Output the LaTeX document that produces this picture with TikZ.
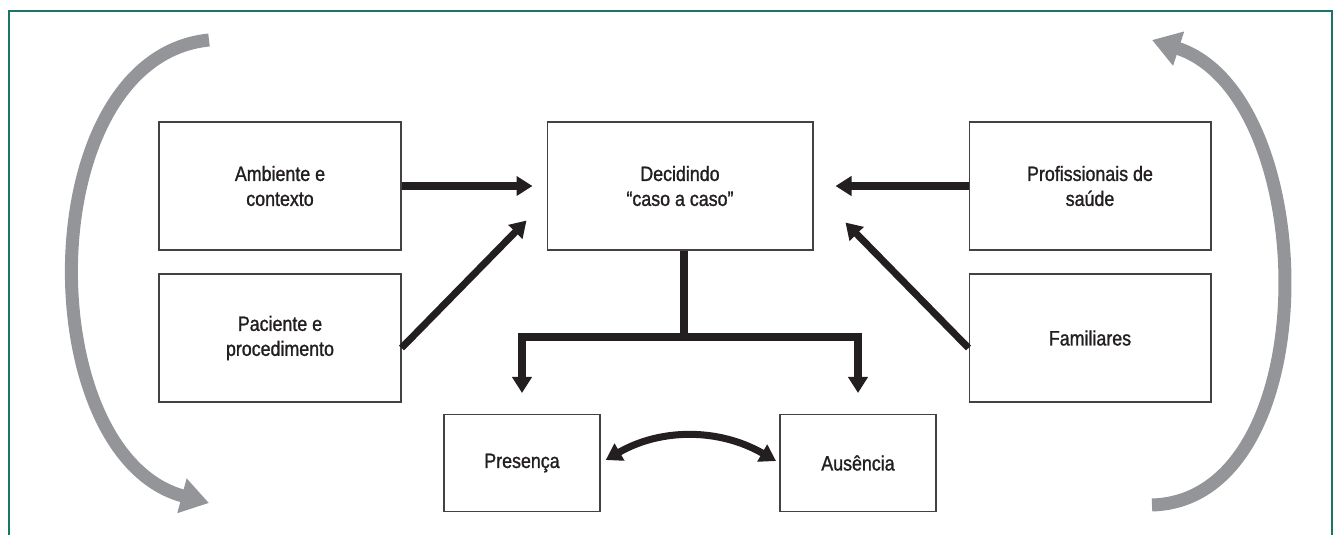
\documentclass[tikz,border=0pt]{standalone}
\usepackage{fontspec}
\setmainfont{Liberation Sans}[FakeStretch=0.86, FakeBold=1.2]
\usepackage{tikz}
\usetikzlibrary{arrows.meta}
\definecolor{frame}{RGB}{27,117,101}
\definecolor{arcgray}{RGB}{147,149,152}
\definecolor{ink}{RGB}{35,31,32}

\begin{document}
\begin{tikzpicture}
		[x=0.02cm, y=-0.02cm, thick,
		main/.style = {draw=ink!85, line width=0.6pt, minimum width=4.84cm, minimum height=2.56cm, align=center, text=ink, font=\fontsize{11.8}{14.2}\selectfont},
		wide/.style = {main, minimum width=5.32cm},
		small/.style = {main, minimum width=3.12cm, minimum height=1.94cm},
		link/.style = {draw=ink, line width=4pt},
		arr/.style = {link, -{Triangle[length=0.32cm, width=0.38cm]}},
		twoway/.style = {link, {Triangle[length=0.32cm, width=0.38cm]}-{Triangle[length=0.32cm, width=0.38cm]}},
		loop/.style = {draw=arcgray, line width=7.4pt, -{Triangle[length=0.56cm, width=0.68cm]}}]
	\useasboundingbox (0,0) rectangle (1336,535);
	\draw[frame, line width=1.1pt] (9,535) -- (9,11) -- (1332,11) -- (1332,535);
	\node[main] (1) at (280,186) {Ambiente e\\contexto};
	\node[main] (2) at (280,338) {Paciente e\\procedimento};
	\node[wide] (3) at (680,186) {Decidindo\\“caso a caso”};
	\node[main] (4) at (1090,186) {Profissionais de\\saúde};
	\node[main] (5) at (1090,338) {Familiares};
	\node[small] (6) at (522,463) {Presença};
	\node[small] (7) at (858,463) {Ausência};
	\coordinate (fork) at (684,337);
	\coordinate (l1) at (209,40);
	\coordinate (l2) at (209,503);
	\coordinate (r1) at (1152,505);
	\coordinate (r2) at (1152,40);
	\draw[arr, shorten >=0.28cm] (1) -- (3);
	\draw[arr] ([yshift=-0.2cm]2.east) -- ([xshift=-0.4cm, yshift=0.6cm]3.south west);
	\draw[arr, shorten >=0.44cm] (4) -- (3);
	\draw[arr] ([yshift=-0.2cm]5.west) -- ([xshift=0.64cm, yshift=0.56cm]3.south east);
	\draw[link] (3.south -| fork) -- (fork);
	\draw[arr] (fork) -| ([yshift=0.42cm]6.north);
	\draw[arr] (fork) -| ([yshift=0.42cm]7.north);
	\draw[twoway, shorten <=0.12cm, shorten >=0.08cm] (6.east) to[bend left=30] (7.west);
	\draw[loop] (l1) .. controls (30,58) and (30,455) .. (l2);
	\draw[loop] (r1) .. controls (1328,500) and (1322,95) .. (r2);
	\end{tikzpicture}
\end{document}
